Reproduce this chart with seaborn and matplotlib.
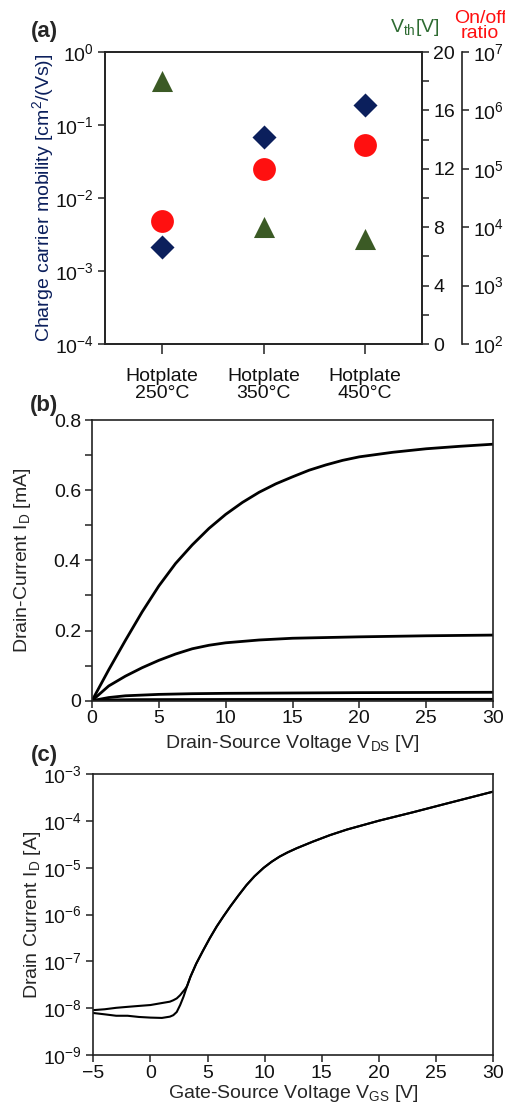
import os

os.environ.setdefault("MPLBACKEND", "Agg")

import matplotlib.pyplot as plt
import numpy as np
import pandas as pd
import seaborn as sns
from matplotlib.ticker import FixedLocator, FuncFormatter, NullLocator

sns.set_theme(style="ticks")
plt.rcParams["font.family"] = ["Liberation Sans", "DejaVu Sans"]
plt.rcParams["mathtext.fontset"] = "custom"
plt.rcParams["mathtext.rm"] = "Liberation Sans"
plt.rcParams["mathtext.it"] = "Liberation Sans"
plt.rcParams["mathtext.bf"] = "Liberation Sans:bold"
plt.rcParams["axes.edgecolor"] = "#222222"
plt.rcParams["axes.linewidth"] = 1.2
plt.rcParams["xtick.color"] = "#222222"
plt.rcParams["ytick.color"] = "#222222"
plt.rcParams["xtick.labelcolor"] = "#111111"
plt.rcParams["ytick.labelcolor"] = "#111111"

# (a) device parameters per annealing condition
conditions = ["Hotplate\n250°C", "Hotplate\n350°C", "Hotplate\n450°C"]
mobility = [0.0021, 0.069, 0.186]          # cm^2/(Vs)
threshold_v = [18.0, 8.0, 7.2]             # V
on_off_ratio = [1.3e4, 9.8e4, 2.6e5]

# (b) output characteristics, I_D in mA vs V_DS
vds_top = [0, 1.25, 2.5, 3.75, 5, 6.25, 7.5, 8.75, 10, 11.25, 12.5, 13.75, 15, 16.25,
           17.5, 18.75, 20, 22.5, 25, 27.5, 30]
id_top = [0, 0.088, 0.172, 0.253, 0.327, 0.391, 0.444, 0.491, 0.531, 0.565, 0.594,
          0.618, 0.638, 0.657, 0.672, 0.685, 0.695, 0.708, 0.718, 0.725, 0.731]
vds_mid = [0, 1.25, 2.5, 3.75, 5, 6.25, 7.5, 8.75, 10, 12.5, 15, 17.5, 20, 25, 30]
id_mid = [0, 0.042, 0.070, 0.094, 0.115, 0.133, 0.148, 0.158, 0.165, 0.173, 0.178,
          0.180, 0.182, 0.185, 0.187]
vds_low = [0, 1.25, 2.5, 3.75, 5, 7.5, 10, 15, 20, 30]
id_low = [0, 0.009, 0.014, 0.016, 0.018, 0.020, 0.021, 0.022, 0.023, 0.024]
vds_min = [0, 1.25, 3, 10, 30]
id_min = [0, 0.002, 0.003, 0.0035, 0.004]

# (c) transfer characteristic, I_D in A vs V_GS (two sweep directions)
vgs_on = [3.2, 3.5, 4.0, 4.6, 5.2, 5.8, 6.4, 7.0, 7.7, 8.4, 9.1, 9.9, 10.6, 11.3, 12.0,
          12.8, 14.2, 15.7, 17.2, 20, 23, 26, 30]
id_on = [2.95e-8, 4.7e-8, 8.9e-8, 1.7e-7, 3.16e-7, 5.6e-7, 9.3e-7, 1.51e-6, 2.57e-6,
         4.27e-6, 6.6e-6, 1.0e-5, 1.35e-5, 1.74e-5, 2.14e-5, 2.63e-5, 3.63e-5, 5.0e-5,
         6.6e-5, 1.02e-4, 1.55e-4, 2.4e-4, 4.27e-4]
vgs_off_up = [-5, -4, -3, -2, -1, 0, 1, 1.7, 2.0, 2.3, 2.6, 2.8, 3.0]
id_off_up = [9.1e-9, 9.5e-9, 1.02e-8, 1.07e-8, 1.12e-8, 1.17e-8, 1.29e-8, 1.38e-8,
             1.48e-8, 1.62e-8, 1.9e-8, 2.19e-8, 2.5e-8]
vgs_off_down = [-5, -4, -3, -2, -1, 0, 1, 1.7, 2.0, 2.3, 2.6, 2.9]
id_off_down = [7.9e-9, 7.4e-9, 6.9e-9, 6.9e-9, 6.5e-9, 6.3e-9, 6.2e-9, 6.6e-9,
               7.1e-9, 8.3e-9, 1.17e-8, 1.78e-8]

NAVY = "#0b1f5c"
GREEN = "#3b5a25"
RED = "#ff1010"
W, H = 505, 1112


def box(left, top, right, bottom):
    return [left / W, 1 - bottom / H, (right - left) / W, (bottom - top) / H]


def style_ticks(ax, length=5):
    ax.tick_params(direction="out", length=length, width=1.1, labelsize=14, pad=3)
    ax.tick_params(which="minor", direction="out", length=length, width=1.1)


def panel_a(fig):
    ax = fig.add_axes(box(105, 52, 422, 344))
    pos = np.arange(len(conditions))
    frame = pd.DataFrame({"pos": pos, "mobility": mobility,
                          "vth": threshold_v, "ratio": on_off_ratio})

    sns.scatterplot(data=frame, x="pos", y="mobility", marker="D", s=150,
                    color=NAVY, linewidth=0, ax=ax, zorder=3)
    ax.set_yscale("log")
    ax.set_ylim(1e-4, 1)
    ax.yaxis.set_minor_locator(NullLocator())
    ax.set_xlim(-0.56, 2.56)
    ax.set_xticks(pos)
    ax.set_xticklabels(conditions, linespacing=1.05)
    style_ticks(ax)
    ax.tick_params(axis="x", length=7, pad=10)
    ax.set_xlabel("")
    ax.set_ylabel("Charge carrier mobility [cm$^2$/(Vs)]", color=NAVY, fontsize=14)
    ax.yaxis.set_label_coords(-0.155, 0.5)

    ax2 = ax.twinx()
    sns.scatterplot(data=frame, x="pos", y="vth", marker="^", s=230,
                    color=GREEN, linewidth=0, ax=ax2, zorder=3)
    ax2.set_ylim(0, 20)
    ax2.yaxis.set_major_locator(FixedLocator([0, 4, 8, 12, 16, 20]))
    ax2.yaxis.set_minor_locator(FixedLocator([2, 6, 10, 14, 18]))
    ax2.set_ylabel("")
    style_ticks(ax2)

    ax3 = ax.twinx()
    sns.scatterplot(data=frame, x="pos", y="ratio", marker="o", s=270,
                    color=RED, linewidth=0, ax=ax3, zorder=3)
    ax3.set_yscale("log")
    ax3.set_ylim(1e2, 1e7)
    ax3.yaxis.set_minor_locator(NullLocator())
    ax3.spines["right"].set_position(("axes", 1.125))
    for side in ["left", "top", "bottom"]:
        ax3.spines[side].set_visible(False)
    ax3.set_ylabel("")
    style_ticks(ax3)
    ax.set_xlim(-0.56, 2.56)

    fig.text(415 / W, 1 - 27 / H, "V$_{th}$[V]", color="#2e6b32", fontsize=14,
             ha="center", va="center")
    fig.text(480 / W, 1 - 26 / H, "On/off\nratio", color=RED, fontsize=14,
             ha="center", va="center", linespacing=0.9)
    fig.text(58 / W, 1 - 31 / H, "(a)", fontsize=16, fontweight="bold",
             ha="right", va="center")


def panel_b(fig):
    ax = fig.add_axes(box(92, 420, 493, 700.7))
    curves = pd.concat([
        pd.DataFrame({"vds": vds_top, "id": id_top, "curve": "c1"}),
        pd.DataFrame({"vds": vds_mid, "id": id_mid, "curve": "c2"}),
        pd.DataFrame({"vds": vds_low, "id": id_low, "curve": "c3"}),
        pd.DataFrame({"vds": vds_min, "id": id_min, "curve": "c4"}),
    ])
    sns.lineplot(data=curves, x="vds", y="id", hue="curve",
                 palette={k: "black" for k in ["c1", "c2", "c3", "c4"]},
                 estimator=None, sort=False, legend=False, linewidth=2.0, ax=ax)
    ax.set_xlim(0, 30)
    ax.set_ylim(0, 0.8)
    ax.xaxis.set_major_locator(FixedLocator(range(0, 31, 5)))
    ax.yaxis.set_major_locator(FixedLocator([0, 0.2, 0.4, 0.6, 0.8]))
    ax.yaxis.set_minor_locator(FixedLocator([0.1, 0.3, 0.5, 0.7]))
    ax.yaxis.set_major_formatter(FuncFormatter(lambda v, _: "0" if v == 0 else f"{v:.1f}"))
    style_ticks(ax)
    ax.tick_params(axis="x", pad=2)
    ax.set_xlabel("Drain-Source Voltage V$_{DS}$ [V]", fontsize=14)
    ax.set_ylabel("Drain-Current I$_{D}$ [mA]", fontsize=14)
    ax.xaxis.set_label_coords(0.5, -0.115)
    ax.yaxis.set_label_coords(-0.147, 0.5)
    fig.text(58 / W, 1 - 405 / H, "(b)", fontsize=16, fontweight="bold",
             ha="right", va="center")


def panel_c(fig):
    ax = fig.add_axes(box(93.3, 774.3, 493.3, 1055))
    sweeps = pd.concat([
        pd.DataFrame({"vgs": vgs_off_down + vgs_on, "id": id_off_down + id_on,
                      "sweep": "fwd"}),
        pd.DataFrame({"vgs": vgs_off_up + vgs_on, "id": id_off_up + id_on,
                      "sweep": "rev"}),
    ])
    sns.lineplot(data=sweeps, x="vgs", y="id", hue="sweep",
                 palette={"fwd": "black", "rev": "black"},
                 estimator=None, sort=False, legend=False, linewidth=1.5, ax=ax)
    ax.set_yscale("log")
    ax.set_ylim(1e-9, 1e-3)
    ax.yaxis.set_minor_locator(NullLocator())
    ax.set_xlim(-5, 30)
    ax.xaxis.set_major_locator(FixedLocator(range(-5, 31, 5)))
    style_ticks(ax)
    ax.tick_params(axis="x", pad=2)
    ax.set_xlabel("Gate-Source Voltage V$_{GS}$ [V]", fontsize=14)
    ax.set_ylabel("Drain Current I$_{D}$ [A]", fontsize=14)
    ax.xaxis.set_label_coords(0.5, -0.098)
    ax.yaxis.set_label_coords(-0.126, 0.5)
    fig.text(58 / W, 1 - 756 / H, "(c)", fontsize=16, fontweight="bold",
             ha="right", va="center")


def main() -> None:
    fig = plt.figure(figsize=(W / 100, H / 100), dpi=100)
    panel_a(fig)
    panel_b(fig)
    panel_c(fig)
    fig.savefig("out.png", dpi=100)
    plt.close(fig)


if __name__ == "__main__":
    main()
